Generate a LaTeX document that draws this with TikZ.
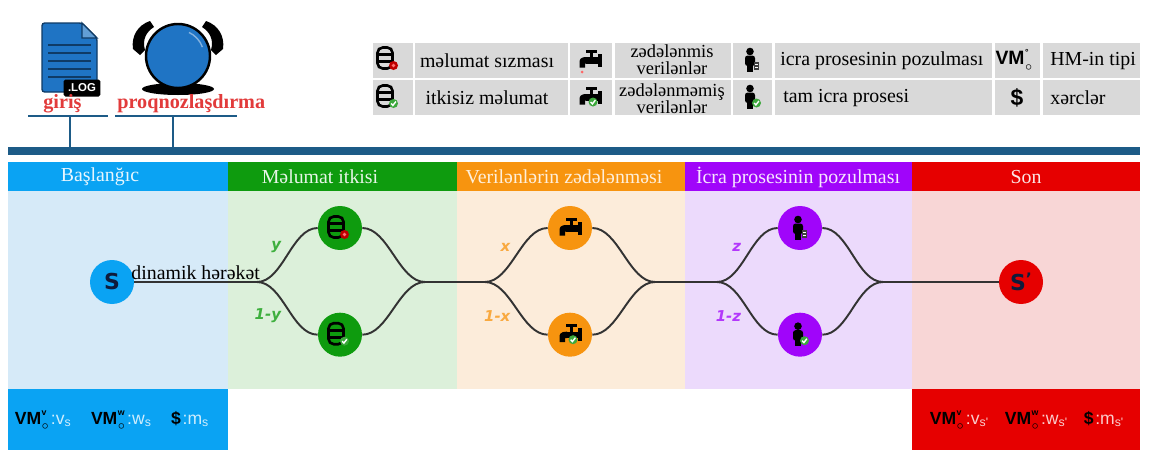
\documentclass[tikz,border=0pt]{standalone}
\usepackage{fontspec}
\setmainfont{Liberation Serif}
\setsansfont{DejaVu Sans}
\newfontfamily\iconfont{Liberation Sans}
\usetikzlibrary{positioning, calc}

\definecolor{busblue}{HTML}{1D5B87}
\definecolor{cellgray}{HTML}{D9D9D9}
\definecolor{tagred}{HTML}{E23B3B}
\definecolor{fileblue}{HTML}{1F74C4}
\definecolor{fileink}{HTML}{0F3B66}
\definecolor{navy}{HTML}{0E1C3C}
\definecolor{startblue}{HTML}{0AA3F3}
\definecolor{startpale}{HTML}{D6EAF8}
\definecolor{lossgreen}{HTML}{0E9B0E}
\definecolor{losspale}{HTML}{DCF0DA}
\definecolor{damorange}{HTML}{F7940F}
\definecolor{dampale}{HTML}{FCECDA}
\definecolor{execpurple}{HTML}{A005FA}
\definecolor{execpale}{HTML}{ECDAFC}
\definecolor{endred}{HTML}{E60000}
\definecolor{endpale}{HTML}{F8D6D6}
\definecolor{okgreen}{HTML}{3CA83C}

% VM glyph with a small mark stacked over a ring
\newcommand{\vmglyph}[1]{{\color{black}\bfseries VM\kern0.3pt\raisebox{-0.6ex}{\shortstack[l]{\fontsize{5}{4}\selectfont #1\\[2pt]\fontsize{7}{6}\selectfont$\circ$}}}\kern1.2pt}

\tikzset{
  legendtext/.style={font=\fontsize{11.3}{13}\selectfont, inner sep=0pt},
  twoline/.style={font=\fontsize{10.5}{9.6}\selectfont, align=center, inner sep=0pt},
  bandtitle/.style={font=\fontsize{11.3}{13}\selectfont, inner sep=0pt},
  tag/.style={font=\fontsize{11.5}{13}\selectfont\bfseries, text=tagred, inner sep=0pt},
  busline/.style={draw=busblue, line width=1.7pt},
  state/.style={circle, minimum size=0.88cm, inner sep=0pt, font=\sffamily\bfseries\fontsize{12.5}{12.5}\selectfont, text=navy},
  branch/.style={font=\sffamily\bfseries\itshape\fontsize{8.5}{10}\selectfont, inner sep=0pt},
  wire/.style={draw=black!80, line width=1.1pt},
  costline/.style={font=\iconfont\fontsize{10}{12}\selectfont, inner sep=0pt},
  % small icons, in pixel units
  nobadge/.pic={},
  leakdot/.pic={\fill[red!75!black] (0,0) circle[radius=4.5]; \fill[red!55!white] (0,0) circle[radius=1.8];},
  okdot/.pic={\fill[okgreen] (0,0) circle[radius=4.5]; \draw[white, line width=0.8pt] (-2.3,0) -- (-0.6,1.9) -- (2.4,-2);},
  drip/.pic={\fill[red!60] (0,0) circle[radius=1.5];},
  db/.pic={
    \draw[black, line width=1.5pt, rounded corners=3pt] (-7.5,-10.5) rectangle (7.5,10.5);
    \draw[black, line width=1.5pt] (-7.5,-3.5) -- (7.5,-3.5) (-7.5,3.5) -- (7.5,3.5);
    \pic at (8.5,7.5) {#1};
  },
  tap/.pic={
    \fill[black] (-4,-3) rectangle (8,3.5);
    \fill[black] (8,-6.5) rectangle (11.5,6.5);
    \fill[black] (0,-8) rectangle (3,-3);
    \fill[black] (-4,-10.5) rectangle (7,-7.5);
    \fill[black] (-3,-3) .. controls (-10.5,-3) and (-10.5,0) .. (-10.5,3) -- (-10.5,7.5) -- (-5,7.5) -- (-5,3.5) -- (-3,3.5) -- cycle;
    \pic at (3,5) {#1};
  },
  person/.pic={
    \fill[black] (0,-8.5) circle[radius=3.8];
    \fill[black, rounded corners=1.5pt] (-5,-4.5) rectangle (5,6);
    \fill[black] (-3.2,5) rectangle (3.2,11.5);
    \pic at (6.5,6) {#1};
  },
  docbox/.pic={\fill[black!75] (-2.5,-4) rectangle (2.5,4); \draw[white, line width=0.4pt] (-1.5,-1.5) -- (1.5,-1.5) (-1.5,1) -- (1.5,1);},
}

\begin{document}
\begin{tikzpicture}[x=0.02cm, y=-0.02cm]
  \useasboundingbox[fill=white] (0,0) rectangle (1150,450);

  % log file
  \filldraw[fill=fileblue, draw=fileink, line width=0.8pt, rounded corners=1.5pt] (42,23) -- (82,23) -- (97,38) -- (97,92) -- (42,92) -- cycle;
  \filldraw[fill=fileblue!70!white, draw=fileink, line width=0.8pt] (82,23) -- (82,38) -- (97,38) -- cycle;
  \foreach \ly in {45,53,61,69,77} \draw[fileink, line width=1.6pt] (48,\ly) -- (91,\ly);
  \node[fill=black, rounded corners=1pt, text=white, font=\iconfont\bfseries\fontsize{6.5}{6.5}\selectfont, minimum width=0.74cm, minimum height=0.34cm, inner sep=0pt] (logtag) at (82,88) {.LOG};

  % crystal ball in two hands
  \fill[black] (178,89) ellipse [x radius=36, y radius=6];
  \fill[black] (160,80) rectangle (196,89);
  \filldraw[draw=black, line width=1.4pt, fill=fileblue] (178,56) circle[radius=32];
  \draw[fileblue!55!white, line width=0.8pt] (178,56) ++(-20:26) arc (-20:-65:26);
  \fill[black] (150,21) .. controls (138,25) and (131,36) .. (133,49) -- (140,55) -- (145,50) .. controls (142,40) and (146,32) .. (154,27) -- cycle;
  \fill[black] (206,21) .. controls (218,25) and (225,36) .. (223,49) -- (216,55) -- (211,50) .. controls (214,40) and (210,32) .. (202,27) -- cycle;

  % labels hanging from the bus
  \node[tag, anchor=base west] (inlabel) at (43,108) {giriş};
  \node[tag, anchor=base west] (forecast) at (117,108) {proqnozlaşdırma};
  \coordinate (intap) at (70,116);
  \coordinate (fctap) at (173,116);
  \coordinate (bus) at (8,148);
  \draw[busline] (28,116) -- (108,116);
  \draw[busline] (115,116) -- (237,116);
  \draw[busline] (intap) -- (intap |- bus);
  \draw[busline] (fctap) -- (fctap |- bus);
  \fill[busblue] (8,147) rectangle (1140,155);

  % legend table
  \foreach \xa/\xb in {373/413, 415/568, 570/612, 615/731, 733/772, 775/992, 995/1040, 1043/1140} {
    \fill[cellgray] (\xa,43) rectangle (\xb,78);
    \fill[cellgray] (\xa,80) rectangle (\xb,115);
  }
  \pic at (385,58) {db=leakdot};
  \pic at (385,96) {db=okdot};
  \pic at (590,60) {tap=nobadge};
  \pic at (582,72) {drip};
  \pic at (590,97) {tap=okdot};
  \pic at (750,60) {person=docbox};
  \pic at (750,97) {person=okdot};
  \node[font=\iconfont\bfseries\fontsize{11}{11}\selectfont, inner sep=0pt] (vmkey) at (1015,60) {\vmglyph{°}};
  \node[font=\iconfont\bfseries\fontsize{13}{13}\selectfont, inner sep=0pt] (costkey) at (1017,98) {\$};
  \node[legendtext] (leaktext) at (487,61) {məlumat sızması};
  \node[legendtext] (keeptext) at (487,98) {itkisiz məlumat};
  \node[twoline] (brokentext) at (672,60) {zədələnmis\\verilənlər};
  \node[twoline] (soundtext) at (672,99) {zədələnməmiş\\verilənlər};
  \node[legendtext, anchor=west] (halttext) at (780,61) {icra prosesinin pozulması};
  \node[legendtext, anchor=west] (runtext) at (783,98) {tam icra prosesi};
  \node[legendtext, anchor=west] (typetext) at (1050,61) {HM-in tipi};
  \node[legendtext, anchor=west] (costtext) at (1050,98) {xərclər};

  % stage bands
  \foreach \xa/\xb/\hue/\pale in {8/228/startblue/startpale, 228/457/lossgreen/losspale, 457/685/damorange/dampale, 685/912/execpurple/execpale, 912/1140/endred/endpale} {
    \fill[\hue] (\xa,162) rectangle (\xb,191);
    \fill[\pale] (\xa,191) rectangle (\xb,389);
  }
  \fill[startblue] (8,389) rectangle (228,450);
  \fill[endred] (912,389) rectangle (1140,450);
  \node[bandtitle, text=startblue!10!white] (startt) at (100,177) {Başlanğıc};
  \node[bandtitle, text=lossgreen!10!white] (losst) at (320,177) {Məlumat itkisi};
  \node[bandtitle, text=damorange!15!white] (damt) at (564,177) {Verilənlərin zədələnməsi};
  \node[bandtitle, text=execpurple!10!white] (exect) at (798,177) {İcra prosesinin pozulması};
  \node[bandtitle, text=endred!10!white] (endt) at (1026,177) {Son};

  % states
  \node[state, fill=startblue] (s) at (112,282) {S};
  \coordinate (split1) at (257,282);
  \node[state, fill=lossgreen] (leak) at (340,228) {};
  \node[state, fill=lossgreen, below=1.24cm of leak] (kept) {};
  \coordinate (merge1) at (425,282);
  \coordinate (split2) at (485,282);
  \node[state, fill=damorange] (broken) at (570,228) {};
  \node[state, fill=damorange, below=1.24cm of broken] (sound) {};
  \coordinate (merge2) at (655,282);
  \coordinate (split3) at (717,282);
  \node[state, fill=execpurple] (halted) at (800,228) {};
  \node[state, fill=execpurple, below=1.24cm of halted] (finished) {};
  \coordinate (merge3) at (883,282);
  \node[state, fill=endred] (s2) at (1021,282) {S\raisebox{0.55ex}{\fontsize{9}{9}\selectfont '}};

  \pic at ($(leak)+(-4,-1)$) {db=leakdot};
  \pic at ($(kept)+(-4,-1)$) {db=okdot};
  \pic at (broken) {tap=nobadge};
  \pic at (sound) {tap=okdot};
  \pic at ($(halted)+(-2,0)$) {person=docbox};
  \pic at ($(finished)+(-2,0)$) {person=okdot};

  % transitions
  \draw[wire, line width=1.6pt] (s) -- (split1) node[midway, above=0.5pt, inner sep=0pt, font=\fontsize{11.3}{13}\selectfont, text=black] (motion) {dinamik hərəkət};
  \foreach \sp/\up/\dn/\mg/\hue/\p in {split1/leak/kept/merge1/lossgreen/y, split2/broken/sound/merge2/damorange/x, split3/halted/finished/merge3/execpurple/z} {
    \draw[wire] (\sp) .. controls +(26,0) and +(-26,0) .. (\up.west) node[branch, pos=0.6, left=6pt, text=\hue!80!white] {\p};
    \draw[wire] (\sp) .. controls +(26,0) and +(-26,0) .. (\dn.west) node[branch, pos=0.6, left=6pt, text=\hue!80!white] {1-\p};
    \draw[wire] (\up.east) .. controls +(26,0) and +(-26,0) .. (\mg);
    \draw[wire] (\dn.east) .. controls +(26,0) and +(-26,0) .. (\mg);
  }
  \draw[wire] (merge1) -- (split2);
  \draw[wire] (merge2) -- (split3);
  \draw[wire] (merge3) -- (s2);

  % costs at start and end
  \node[costline, text=startblue!20!white] (startcost) at (112,420) {\vmglyph{v}:v\textsubscript{s}\hspace{11pt}\vmglyph{w}:w\textsubscript{s}\hspace{11pt}{\color{black}\bfseries\$}\kern1pt:m\textsubscript{s}};
  \node[costline, text=endred!20!white] (endcost) at (1027,420) {\vmglyph{v}:v\textsubscript{s'}\hspace{9pt}\vmglyph{w}:w\textsubscript{s'}\hspace{9pt}{\color{black}\bfseries\$}\kern1pt:m\textsubscript{s'}};
\end{tikzpicture}
\end{document}
